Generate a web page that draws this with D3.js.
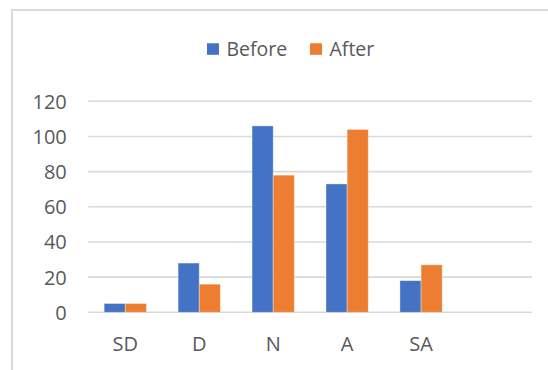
<!DOCTYPE html>
<html>
<head>
<meta charset="utf-8">
<script src="https://cdn.jsdelivr.net/npm/d3@7"></script>
<style>
  html, body { margin: 0; padding: 0; background: #fff; }
  svg { display: block; }
  text { font-family: "Open Sans", "Noto Sans", sans-serif; fill: #595959; }
</style>
</head>
<body>
<svg id="chart" width="548" height="370"></svg>
<script>
// Survey responses per Likert category, before and after
const categories = ["SD", "D", "N", "A", "SA"];
const before = [5, 28, 106, 73, 18];
const after = [5, 16, 78, 104, 27];
const seriesNames = ["Before", "After"];
const seriesColors = ["#4472C4", "#ED7D31"];
const yTicks = [0, 20, 40, 60, 80, 100, 120];

const W = 548, H = 370;
const svg = d3.select("#chart");

// Outer chart frame (extends past the right and bottom edges)
svg.append("rect")
  .attr("x", 12).attr("y", 10)
  .attr("width", W + 20).attr("height", H + 20)
  .attr("fill", "#fff")
  .attr("stroke", "#D9D9D9").attr("stroke-width", 2);

const plot = { left: 88.3, right: 532, top: 101.3, bottom: 312.3 };

// Category axis keeps a trailing blank slot after the last category
const slots = categories.concat([" "]);
const x = d3.scaleBand().domain(slots).range([plot.left, plot.right]).paddingInner(0).paddingOuter(0);
const y = d3.scaleLinear().domain([0, 120]).range([plot.bottom, plot.top]);

// Gridlines
svg.append("g")
  .selectAll("line")
  .data(yTicks)
  .join("line")
  .attr("x1", plot.left).attr("x2", plot.right)
  .attr("y1", d => y(d)).attr("y2", d => y(d))
  .attr("stroke", "#D9D9D9").attr("stroke-width", 1.6);

// Y axis labels
const yAxis = svg.append("g")
  .attr("transform", `translate(${plot.left - 21.5},0)`)
  .call(d3.axisLeft(y).tickValues(yTicks).tickSize(0).tickPadding(0));
yAxis.select(".domain").remove();
yAxis.selectAll("text")
  .attr("font-size", 20)
  .attr("dy", "0.35em")
  .style("font-family", '"Open Sans", sans-serif')
  .attr("fill", "#595959");

// Bars: two per category, gap equal to 150% of one bar
const barW = x.bandwidth() / 3.5;
const x1 = d3.scaleBand().domain(seriesNames).range([0, barW * 2]);
const rows = categories.map((c, i) => ({ cat: c, vals: [before[i], after[i]] }));

const groups = svg.append("g")
  .selectAll("g")
  .data(rows)
  .join("g")
  .attr("transform", d => `translate(${x(d.cat) + (x.bandwidth() - barW * 2) / 2},0)`);

groups.selectAll("rect")
  .data(d => d.vals.map((v, k) => ({ name: seriesNames[k], v, k })))
  .join("rect")
  .attr("x", d => x1(d.name))
  .attr("width", x1.bandwidth())
  .attr("y", d => y(d.v))
  .attr("height", d => y(0) - y(d.v))
  .attr("fill", d => seriesColors[d.k])
  .attr("stroke", "#ffffff").attr("stroke-opacity", 0.45).attr("stroke-width", 0.8);

// X axis labels
const xAxis = svg.append("g")
  .attr("transform", `translate(0,${plot.bottom + 39})`)
  .call(d3.axisBottom(x).tickSize(0).tickPadding(0));
xAxis.select(".domain").remove();
xAxis.selectAll("text")
  .attr("font-size", 20)
  .attr("dy", 0)
  .style("font-family", '"Open Sans", sans-serif')
  .attr("fill", "#595959");

// Legend
const legend = svg.append("g");
const legendItems = [
  { name: seriesNames[0], color: seriesColors[0], x: 207 },
  { name: seriesNames[1], color: seriesColors[1], x: 310 }
];
legendItems.forEach(it => {
  legend.append("rect")
    .attr("x", it.x).attr("y", 43.3)
    .attr("width", 12).attr("height", 11.5)
    .attr("fill", it.color);
  legend.append("text")
    .attr("x", it.x + 19.5).attr("y", 55.7)
    .attr("font-size", 19.5)
    .text(it.name);
});
</script>
</body>
</html>
